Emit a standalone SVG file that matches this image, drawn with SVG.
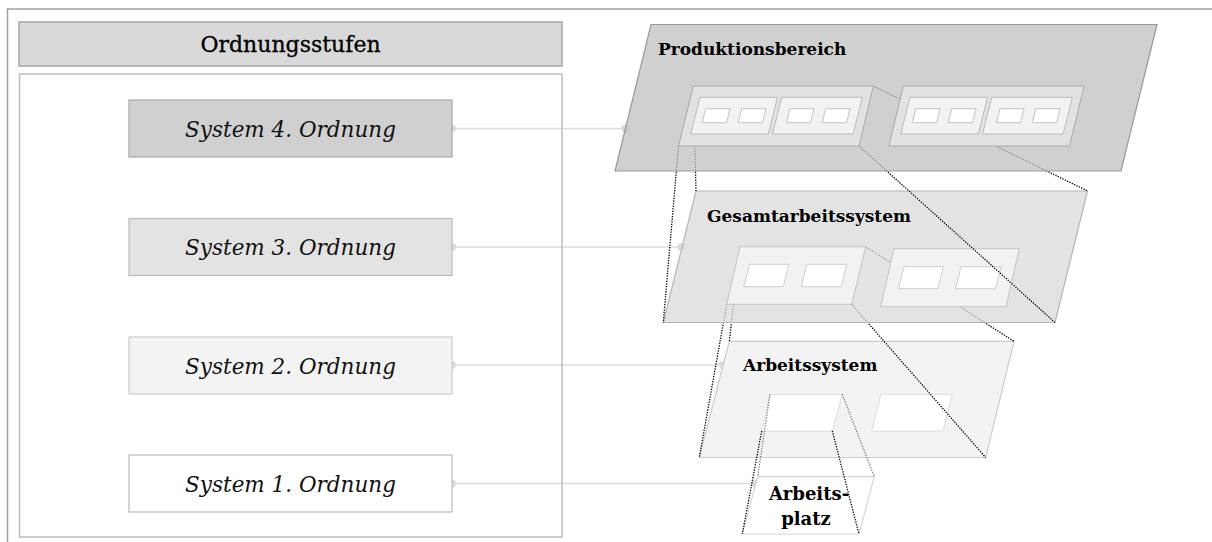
<svg xmlns="http://www.w3.org/2000/svg" width="1212" height="542" viewBox="0 0 1212 542">
  <style>
    .frame { fill: none; stroke: #a0a0a0; stroke-width: 1.5; }
    .header { fill: #d9d9d9; stroke: #a6a6a6; stroke-width: 1.5; }
    .panel { fill: none; stroke: #bdbdbd; stroke-width: 1.5; }
    .sys4 { fill: #d0d0d0; stroke: #aaaaaa; stroke-width: 1.2; }
    .sys3 { fill: #e3e3e3; stroke: #bbbbbb; stroke-width: 1.2; }
    .sys2 { fill: #f3f3f3; stroke: #cccccc; stroke-width: 1.2; }
    .sys1 { fill: #ffffff; stroke: #bbbbbb; stroke-width: 1.2; }
    .title { font-family: "DejaVu Serif", "Liberation Serif", serif; font-size: 22px; fill: #000; text-anchor: middle; stroke: #000; stroke-width: 0.3; }
    .sys-label { font-family: "DejaVu Serif", "Liberation Serif", serif; font-style: italic; font-size: 21.5px; fill: #111; text-anchor: middle; }
    .plane-label { font-family: "DejaVu Serif", "Liberation Serif", serif; font-weight: bold; font-size: 17px; fill: #000; }
    .ap-label { font-family: "DejaVu Serif", "Liberation Serif", serif; font-weight: bold; font-size: 18px; fill: #000; text-anchor: middle; }
    .link { stroke: #dcdcdc; stroke-width: 1.5; fill: none; }
    .link-dot { fill: #dcdcdc; }
    .plane-p { fill: #c0c0c0; fill-opacity: 0.75; stroke: #999999; stroke-width: 1.2; }
    .plane-g { fill: #dadada; fill-opacity: 0.75; stroke: #b5b5b5; stroke-width: 1.2; }
    .plane-a { fill: #f3f3f3; stroke: #cccccc; stroke-width: 1.2; }
    .plane-ap { fill: #ffffff; stroke: #d6d6d6; stroke-width: 1.2; }
    .grp-p { fill: #e2e2e2; stroke: #aaaaaa; stroke-width: 1; }
    .sub-p { fill: #f2f2f2; stroke: #bbbbbb; stroke-width: 1; }
    .cell-p { fill: #ffffff; stroke: #c4c4c4; stroke-width: 1; }
    .grp-g { fill: #f2f2f2; stroke: #c4c4c4; stroke-width: 1; }
    .cell-g { fill: #ffffff; stroke: #cfcfcf; stroke-width: 1; }
    .cell-a { fill: #ffffff; stroke: #dddddd; stroke-width: 1; }
    .proj { stroke: #000; stroke-width: 1.3; stroke-dasharray: 1.3 1.3; fill: none; }
    .proj-back { stroke: #777; stroke-width: 1.2; stroke-dasharray: 1.3 1.3; fill: none; }
  </style>

  <!-- outer frame -->
  <path class="frame" d="M7.5 542 V9 H1212"/>

  <!-- level connectors (drawn first so the end dots tuck under the boxes) -->
  <g id="connectors">
    <line class="link" x1="452" y1="128.5" x2="625.4" y2="128.5"/>
    <circle class="link-dot" cx="452" cy="128.5" r="4"/>
    <circle class="link-dot" cx="625.4" cy="128.5" r="4"/>
    <line class="link" x1="452" y1="247" x2="681.5" y2="247"/>
    <circle class="link-dot" cx="452" cy="247" r="4"/>
    <circle class="link-dot" cx="681.5" cy="247" r="4"/>
    <line class="link" x1="452" y1="365" x2="723" y2="365"/>
    <circle class="link-dot" cx="452" cy="365" r="4"/>
    <circle class="link-dot" cx="723" cy="365" r="4"/>
    <line class="link" x1="452" y1="483.5" x2="755.5" y2="483.5"/>
    <circle class="link-dot" cx="452" cy="483.5" r="4"/>
    <circle class="link-dot" cx="755.5" cy="483.5" r="4"/>
  </g>

  <!-- left column: order levels -->
  <g id="ordnungsstufen">
    <rect class="header" x="19" y="22" width="543" height="44"/>
    <text class="title" x="290.5" y="52">Ordnungsstufen</text>
    <rect class="panel" x="19.5" y="74" width="542.5" height="463"/>
  </g>
  <g id="system4">
    <rect class="sys4" x="129" y="100" width="323" height="57"/>
    <text class="sys-label" x="290.5" y="136.5">System 4. Ordnung</text>
  </g>
  <g id="system3">
    <rect class="sys3" x="129" y="218.5" width="323" height="57"/>
    <text class="sys-label" x="290.5" y="255">System 3. Ordnung</text>
  </g>
  <g id="system2">
    <rect class="sys2" x="129" y="337" width="323" height="57"/>
    <text class="sys-label" x="290.5" y="373.5">System 2. Ordnung</text>
  </g>
  <g id="system1">
    <rect class="sys1" x="129" y="455" width="323" height="57"/>
    <text class="sys-label" x="290.5" y="491.5">System 1. Ordnung</text>
  </g>

  <!-- right column: nested planes, drawn from the lowest level upwards -->
  <g id="arbeitsplatz">
    <polygon class="plane-ap" points="757.7,476.7 874.3,476.7 859,534 742.3,534"/>
    <text class="ap-label" x="809" y="500">Arbeits-</text>
    <text class="ap-label" x="806" y="525">platz</text>
  </g>

  <g id="arbeitssystem">
    <polygon class="plane-a" points="729.3,341.3 1014,341.3 985.7,457.5 699.3,457.5"/>
    <polygon class="cell-a" points="770,394.3 842.3,394.3 832.3,431 761.7,431"/>
    <polygon class="cell-a" points="881,394.3 952.3,394.3 943,431 871.7,431"/>
    <text class="plane-label" x="743" y="371">Arbeitssystem</text>
  </g>

  <!-- projection: workstation cell onto Arbeitsplatz -->
  <g id="proj-a-ap">
    <line class="proj-back" x1="770" y1="394.3" x2="757.7" y2="476.7"/>
    <line class="proj-back" x1="842.3" y1="394.3" x2="874.3" y2="476.7"/>
    <line class="proj" x1="761.7" y1="431" x2="742.3" y2="534"/>
    <line class="proj" x1="832.3" y1="431" x2="859" y2="534"/>
  </g>

  <!-- projection: Gesamtarbeitssystem cell onto Arbeitssystem (runs under the plane above) -->
  <g id="proj-g-a">
    <line class="proj" x1="740" y1="246.7" x2="729.3" y2="341.3"/>
    <line class="proj" x1="726.7" y1="304.3" x2="699.3" y2="457.5"/>
    <line class="proj" x1="865.7" y1="246.7" x2="1014" y2="341.3"/>
    <line class="proj" x1="851.7" y1="304.3" x2="985.7" y2="457.5"/>
  </g>

  <g id="gesamtarbeitssystem">
    <polygon class="plane-g" points="696,191 1087.5,191 1055,322.5 663.3,322.5"/>
    <polygon class="grp-g" points="740,246.7 865.7,246.7 851.7,304.3 726.7,304.3"/>
    <polygon class="cell-g" points="749.3,264.3 788.7,264.3 783.2,286.7 743.8,286.7"/>
    <polygon class="cell-g" points="806.7,264.3 846.7,264.3 841.2,286.7 801.2,286.7"/>
    <polygon class="grp-g" points="894,248.7 1019.3,248.7 1006,306.7 880.7,306.7"/>
    <polygon class="cell-g" points="904,266.7 943.3,266.7 937.8,288.7 898.5,288.7"/>
    <polygon class="cell-g" points="961,266.7 1001,266.7 995.5,288.7 955.5,288.7"/>
    <text class="plane-label" x="707" y="222">Gesamtarbeitssystem</text>
  </g>

  <!-- projection: production cell onto Gesamtarbeitssystem (runs under the plane above) -->
  <g id="proj-p-g">
    <line class="proj" x1="693.3" y1="86" x2="696" y2="191"/>
    <line class="proj" x1="678.5" y1="146" x2="663.3" y2="322.5"/>
    <line class="proj" x1="873.3" y1="86" x2="1087.5" y2="191"/>
    <line class="proj" x1="859" y1="146" x2="1055" y2="322.5"/>
  </g>

  <g id="produktionsbereich">
    <polygon class="plane-p" points="651,24.5 1157,24.5 1121,171 615,171"/>
    <!-- left cell -->
    <polygon class="grp-p" points="693.3,86 873.3,86 859,146 678.5,146"/>
    <polygon class="sub-p" points="700,97.3 777.5,97.3 768.3,134 690.8,134"/>
    <polygon class="sub-p" points="781.7,97.3 862.3,97.3 853.1,134 772.5,134"/>
    <polygon class="cell-p" points="705.7,108.7 730,108.7 726.5,122.7 702.2,122.7"/>
    <polygon class="cell-p" points="741.7,108.7 766,108.7 762.5,122.7 738.2,122.7"/>
    <polygon class="cell-p" points="790,108.7 814,108.7 810.5,122.7 786.5,122.7"/>
    <polygon class="cell-p" points="825.7,108.7 850,108.7 846.5,122.7 822.2,122.7"/>
    <!-- right cell -->
    <polygon class="grp-p" points="903.3,86 1084,86 1069.5,146 889,146"/>
    <polygon class="sub-p" points="910,97.3 987.5,97.3 978.3,134 900.8,134"/>
    <polygon class="sub-p" points="991.7,97.3 1072.3,97.3 1063.1,134 982.5,134"/>
    <polygon class="cell-p" points="915.7,108.7 940,108.7 936.5,122.7 912.2,122.7"/>
    <polygon class="cell-p" points="951.7,108.7 976,108.7 972.5,122.7 948.2,122.7"/>
    <polygon class="cell-p" points="1000,108.7 1024,108.7 1020.5,122.7 996.5,122.7"/>
    <polygon class="cell-p" points="1035.7,108.7 1060,108.7 1056.5,122.7 1032.2,122.7"/>
    <text class="plane-label" x="658" y="55">Produktionsbereich</text>
  </g>
</svg>
